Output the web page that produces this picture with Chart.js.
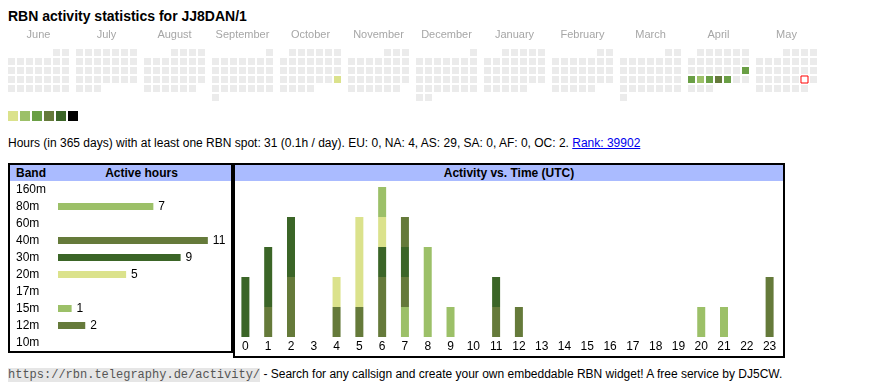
<!DOCTYPE html>
<html>
<head>
<meta charset="utf-8">
<script src="https://cdn.jsdelivr.net/npm/chart.js@4.4.1/dist/chart.umd.min.js"></script>
<style>
  body { margin: 0; background: #fff; font-family: "Liberation Sans", Arial, sans-serif; color: #000; }
  .abs { position: absolute; }
  #title { left: 8px; top: 8px; font-size: 14px; font-weight: bold; line-height: 16px; }
  .swatch { position: absolute; top: 111px; width: 10px; height: 10px; }
  #summary { left: 8px; top: 136px; font-size: 12px; line-height: 14px; white-space: nowrap; }
  #summary a { color: #0000ee; }
  .box { position: absolute; border: 2px solid #000; box-sizing: border-box; }
  .head { position: absolute; left: 0; right: 0; top: 0; height: 16px; background: #aabbff; font-size: 12px; font-weight: bold; line-height: 16px; }
  #footer { left: 8px; top: 367px; font-size: 12px; line-height: 14px; white-space: nowrap; }
  #footer code { font-family: "Liberation Mono", monospace; font-size: 12px; background: #e6e6e6; color: #555; }
  canvas { position: absolute; }
</style>
</head>
<body>
<div id="title" class="abs">RBN activity statistics for JJ8DAN/1</div>
<canvas id="calendar" width="820" height="80" style="left:8px;top:25px"></canvas>
<div id="swatches"></div>
<div id="summary" class="abs">Hours (in 365 days) with at least one RBN spot: 31 (0.1h / day). EU: 0, NA: 4, AS: 29, SA: 0, AF: 0, OC: 2. <a href="#">Rank: 39902</a></div>

<div class="box" style="left:8px;top:163px;width:225px;height:190px">
  <div class="head"><span style="position:absolute;left:6px">Band</span><span style="position:absolute;left:42px;right:0;text-align:center">Active hours</span></div>
</div>
<div class="box" style="left:233px;top:163px;width:552px;height:195px">
  <div class="head" style="text-align:center">Activity vs. Time (UTC)</div>
</div>
<canvas id="bands" width="221" height="170" style="left:10px;top:181px"></canvas>
<canvas id="hours" width="547" height="176" style="left:234px;top:180px"></canvas>

<div id="footer" class="abs"><code>https://rbn.telegraphy.de/activity/</code> - Search for any callsign and create your own embeddable RBN widget! A free service by DJ5CW.</div>

<script>
// calendar
const months = ["June", "July", "August", "September", "October", "November", "December", "January", "February", "March", "April", "May"];
const firstDay = "2024-06-01";
const lastDay = "2025-05-31";
const today = "2025-05-24";
const activeDays = ["2024-10-27", "2025-04-20", "2025-04-21", "2025-04-22", "2025-04-23", "2025-04-24", "2025-04-25"];
const activeLevels = [1, 3, 3, 2, 3, 4, 3];
const levelColors = ["#dbe28c", "#9cc068", "#6a9f45", "#657a3a", "#3b6527", "#000000"];

// bands
const bands = ["160m", "80m", "60m", "40m", "30m", "20m", "17m", "15m", "12m", "10m"];
const bandHours = [0, 7, 0, 11, 9, 5, 0, 1, 2, 0];
const bandColors = ["#6a9f45", "#9cc068", "#6a9f45", "#657a3a", "#3b6527", "#dbe28c", "#6a9f45", "#9cc068", "#657a3a", "#3b6527"];

// hours UTC
const hourLabels = ["0", "1", "2", "3", "4", "5", "6", "7", "8", "9", "10", "11", "12", "13", "14", "15", "16", "17", "18", "19", "20", "21", "22", "23"];
const hours80m = [0, 0, 0, 0, 0, 0, 0, 1, 3, 1, 0, 0, 0, 0, 0, 0, 0, 0, 0, 0, 1, 1, 0, 0];
const hours40m = [0, 1, 2, 0, 1, 1, 2, 1, 0, 0, 0, 1, 0, 0, 0, 0, 0, 0, 0, 0, 0, 0, 0, 2];
const hours30m = [2, 2, 2, 0, 0, 0, 1, 1, 0, 0, 0, 1, 0, 0, 0, 0, 0, 0, 0, 0, 0, 0, 0, 0];
const hours20m = [0, 0, 0, 0, 1, 3, 1, 0, 0, 0, 0, 0, 0, 0, 0, 0, 0, 0, 0, 0, 0, 0, 0, 0];
const hours15m = [0, 0, 0, 0, 0, 0, 1, 0, 0, 0, 0, 0, 0, 0, 0, 0, 0, 0, 0, 0, 0, 0, 0, 0];
const hours12m = [0, 0, 0, 0, 0, 0, 0, 1, 0, 0, 0, 0, 1, 0, 0, 0, 0, 0, 0, 0, 0, 0, 0, 0];

Chart.defaults.font.family = '"Liberation Sans", Arial, sans-serif';
Chart.defaults.font.size = 12;
Chart.defaults.color = "#000";
Chart.defaults.animation = false;
Chart.defaults.responsive = false;
Chart.defaults.events = [];
Chart.defaults.plugins.legend.display = false;
Chart.defaults.plugins.tooltip.enabled = false;

// zero hours -> no bar at all
const noZero = arr => arr.map(v => (v > 0 ? v : null));

// legend swatches
levelColors.forEach((c, i) => {
    const d = document.createElement("div");
    d.className = "swatch";
    d.style.left = (8 + i * 12) + "px";
    d.style.background = c;
    document.getElementById("swatches").appendChild(d);
});

// calendar cells: x = month block + weekday, y = week of month
const monthStep = 68 / 9;
function cellOf(str) {
    const d = new Date(str + "T00:00:00Z");
    const m = (d.getUTCMonth() - 5 + 12) % 12;
    const col = (d.getUTCDay() + 6) % 7;
    const first = new Date(Date.UTC(d.getUTCFullYear(), d.getUTCMonth(), 1));
    const firstCol = (first.getUTCDay() + 6) % 7;
    const row = Math.floor((d.getUTCDate() - 1 + firstCol) / 7);
    return { x: m * monthStep + col, y: row };
}
const cells = [], cellColors = [];
for (let t = Date.parse(firstDay + "T00:00:00Z"); t <= Date.parse(lastDay + "T00:00:00Z"); t += 86400000) {
    const s = new Date(t).toISOString().slice(0, 10);
    if (s === today) continue;
    cells.push(cellOf(s));
    const k = activeDays.indexOf(s);
    cellColors.push(k >= 0 ? levelColors[activeLevels[k] - 1] : "#ebebeb");
}
const xMin = -3.5 / 9, yMin = -3.5 / 9;
new Chart(document.getElementById("calendar"), {
    type: "scatter",
    data: {
        datasets: [
            { data: cells, backgroundColor: cellColors, pointStyle: "rect", pointRadius: 4.95, borderWidth: 0 },
            { data: [cellOf(today)], backgroundColor: "#fff", borderColor: "#ff0000", pointStyle: "rect", pointRadius: 4.95, pointBorderWidth: 1 }
        ]
    },
    options: {
        layout: { padding: 0, autoPadding: false },
        scales: {
            x: {
                position: "top", min: xMin, max: xMin + 820 / 9,
                grid: { display: false, drawTicks: false }, border: { display: false },
                afterFit: s => { s.height = 24; },
                afterBuildTicks: s => { s.ticks = months.map((m, i) => ({ value: i * monthStep + 3 })); },
                ticks: { autoSkip: false, maxRotation: 0, padding: 7, color: "#a6a6a6", font: { size: 11 },
                    callback: (v, i) => months[i] }
            },
            y: { display: false, reverse: true, min: yMin, max: yMin + 56 / 9 }
        }
    }
});

// active hours per band
new Chart(document.getElementById("bands"), {
    type: "bar",
    data: { labels: bands, datasets: [{ data: noZero(bandHours), backgroundColor: bandColors, barThickness: 7, inflateAmount: 0 }] },
    options: {
        indexAxis: "y",
        layout: { padding: { left: 6 }, autoPadding: false },
        scales: {
            x: { display: false, min: 0, max: 12.7 },
            y: {
                grid: { display: false, drawTicks: false }, border: { display: false },
                ticks: { crossAlign: "far", padding: 0, color: "#000", autoSkip: false },
                afterFit: s => { s.width = 42; s.paddingTop = 0; s.paddingBottom = 0; }
            }
        }
    },
    plugins: [{
        id: "values",
        afterDatasetsDraw(chart) {
            const ctx = chart.ctx;
            ctx.save();
            ctx.font = '12px "Liberation Sans", Arial, sans-serif';
            ctx.fillStyle = "#000";
            ctx.textBaseline = "middle";
            chart.getDatasetMeta(0).data.forEach((bar, i) => {
                if (bandHours[i] > 0) ctx.fillText(bandHours[i], bar.x + 5, bar.y);
            });
            ctx.restore();
        }
    }]
});

// activity vs. time
const hourSeries = [["80m", hours80m], ["40m", hours40m], ["30m", hours30m], ["20m", hours20m], ["15m", hours15m], ["12m", hours12m]];
new Chart(document.getElementById("hours"), {
    type: "bar",
    data: {
        labels: hourLabels,
        datasets: hourSeries.map(([b, d]) => ({
            label: b, data: noZero(d), backgroundColor: bandColors[bands.indexOf(b)],
            barThickness: 8, borderWidth: 0, inflateAmount: 0
        }))
    },
    options: {
        layout: { padding: { top: 7 }, autoPadding: false },
        scales: {
            x: {
                stacked: true,
                grid: { display: false, drawTicks: false }, border: { display: false },
                ticks: { padding: 2, color: "#000", autoSkip: false, maxRotation: 0 },
                afterFit: s => { s.height = 19; }
            },
            y: { stacked: true, display: false, min: 0, max: 5 }
        }
    }
});
</script>
</body>
</html>
